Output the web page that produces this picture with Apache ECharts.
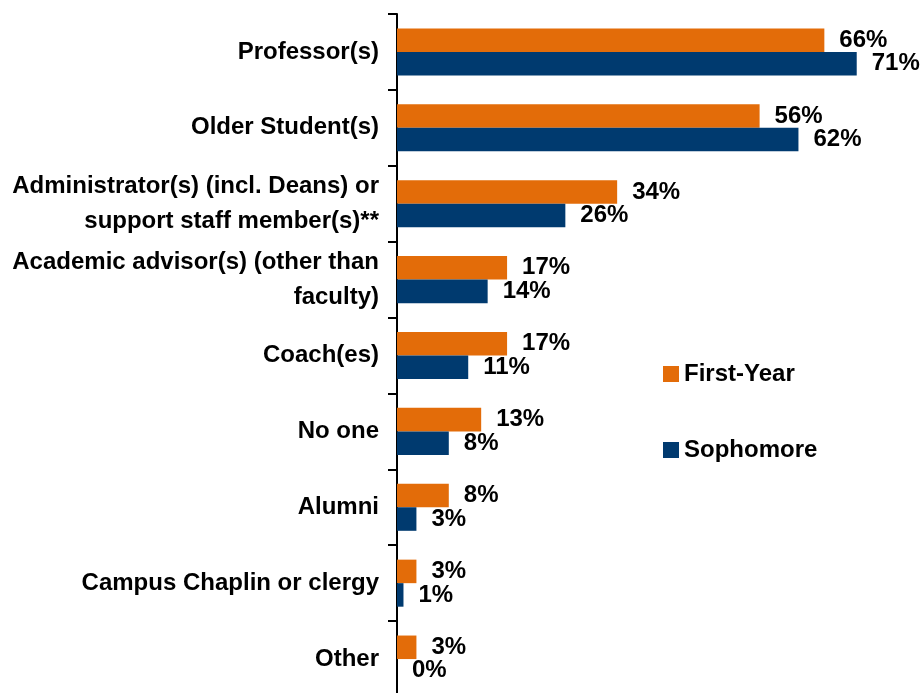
<!DOCTYPE html>
<html>
<head>
<meta charset="utf-8">
<style>
  html, body { margin: 0; padding: 0; background: #fff; }
  #chart { width: 921px; height: 693px; }
</style>
<script src="https://cdn.jsdelivr.net/npm/echarts@6/dist/echarts.min.js"></script>
</head>
<body>
<div id="chart"></div>
<script>
const categories = [
  'Professor(s)',
  'Older Student(s)',
  'Administrator(s) (incl. Deans) or\nsupport staff member(s)**',
  'Academic advisor(s) (other than\nfaculty)',
  'Coach(es)',
  'No one',
  'Alumni',
  'Campus Chaplin or clergy',
  'Other'
];
const firstYear = [66, 56, 34, 17, 17, 13, 8, 3, 3];
const sophomore = [71, 62, 26, 14, 11, 8, 3, 1, 0];

const font = "'Liberation Sans', Arial, sans-serif";

const chart = echarts.init(document.getElementById('chart'));

const valueLabel = {
  show: true,
  position: 'right',
  distance: 15,
  formatter: '{c}%',
  color: '#000',
  fontFamily: font,
  fontWeight: 'bold',
  fontSize: 24
};

chart.setOption({
  animation: false,
  grid: {
    left: 397,
    right: 6,
    top: 14,
    bottom: -4,
    outerBoundsMode: 'none',
    containLabel: false
  },
  legend: {
    orient: 'vertical',
    left: 663,
    top: 359,
    padding: 0,
    icon: 'rect',
    itemWidth: 16,
    itemHeight: 16,
    itemGap: 46,
    textStyle: {
      color: '#000',
      fontFamily: font,
      fontWeight: 'bold',
      fontSize: 24,
      lineHeight: 30
    },
    data: ['First-Year', 'Sophomore']
  },
  xAxis: {
    type: 'value',
    min: 0,
    max: 80,
    show: false
  },
  yAxis: {
    type: 'category',
    inverse: true,
    data: categories,
    axisLine: {
      show: true,
      lineStyle: { color: '#000', width: 2 }
    },
    axisTick: {
      show: true,
      alignWithLabel: false,
      length: 9,
      lineStyle: { color: '#000', width: 2 }
    },
    axisLabel: {
      margin: 18,
      color: '#000',
      fontFamily: font,
      fontWeight: 'bold',
      fontSize: 24,
      lineHeight: 35,
      align: 'right'
    }
  },
  series: [
    {
      name: 'First-Year',
      type: 'bar',
      data: firstYear,
      barGap: '0%',
      barCategoryGap: '38%',
      itemStyle: { color: '#E36C09' },
      label: valueLabel
    },
    {
      name: 'Sophomore',
      type: 'bar',
      data: sophomore,
      barGap: '0%',
      barCategoryGap: '38%',
      itemStyle: { color: '#003A6F' },
      label: valueLabel
    }
  ]
});

window.addEventListener('resize', () => chart.resize());
</script>
</body>
</html>
